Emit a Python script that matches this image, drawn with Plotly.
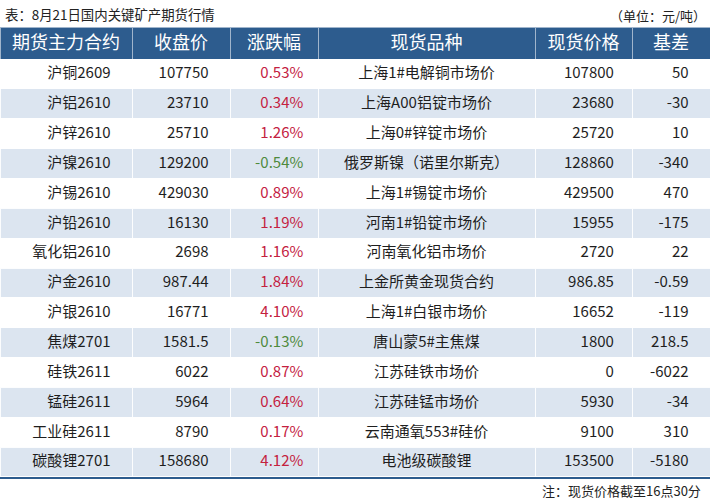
import plotly.graph_objects as go

headers = ["期货主力合约", "收盘价", "涨跌幅", "现货品种", "现货价格", "基差"]
contracts = ["沪铜2609", "沪铝2610", "沪锌2610", "沪镍2610", "沪锡2610", "沪铅2610", "氧化铝2610",
             "沪金2610", "沪银2610", "焦煤2701", "硅铁2611", "锰硅2611", "工业硅2611", "碳酸锂2701"]
close = [107750, 23710, 25710, 129200, 429030, 16130, 2698, 987.44, 16771, 1581.5, 6022, 5964, 8790, 158680]
change = [0.53, 0.34, 1.26, -0.54, 0.89, 1.19, 1.16, 1.84, 4.10, -0.13, 0.87, 0.64, 0.17, 4.12]
spot_name = ["上海1#电解铜市场价", "上海A00铝锭市场价", "上海0#锌锭市场价", "俄罗斯镍（诺里尔斯克）",
             "上海1#锡锭市场价", "河南1#铅锭市场价", "河南氧化铝市场价", "上金所黄金现货合约",
             "上海1#白银市场价", "唐山蒙5#主焦煤", "江苏硅铁市场价", "江苏硅锰市场价",
             "云南通氧553#硅价", "电池级碳酸锂"]
spot_price = [107800, 23680, 25720, 128860, 429500, 15955, 2720, 986.85, 16652, 1800, 0, 5930, 9100, 153500]
basis = [50, -30, 10, -340, 470, -175, 22, -0.59, -119, 218.5, -6022, -34, 310, -5180]

W, H = 710, 500
FONT = "Noto Sans CJK SC"
PAD = "\u00a0" * 4

n = len(contracts)
row_fill = ["#FFFFFF" if i % 2 == 0 else "#DCE5F0" for i in range(n)]
chg_color = ["#C4213F" if v > 0 else "#4E8A3C" for v in change]

cols = [
    [c + PAD for c in contracts],
    [f"{v:g}" + PAD for v in close],
    [f"{v:.2f}%" + "\u00a0\u00a0" for v in change],
    spot_name,
    [f"{v:g}" + "\u00a0\u00a0\u00a0" for v in spot_price],
    [f"{v:g}" + PAD for v in basis],
]

top_px, bottom_px = 27, 477
header_h = 32
cell_h = (bottom_px - top_px - header_h) / n

fig = go.Figure(go.Table(
    columnwidth=[132, 98, 88, 217, 97, 78],
    domain=dict(x=[0, 1], y=[1 - bottom_px / H, 1 - top_px / H]),
    header=dict(
        values=headers,
        fill_color="#2D5C8E",
        line=dict(color="rgba(255,255,255,0.55)", width=1),
        font=dict(family=FONT, size=18, color="white"),
        align="center",
        height=header_h,
    ),
    cells=dict(
        values=cols,
        fill_color=[row_fill] * 6,
        line=dict(color="rgba(255,255,255,0.9)", width=1),
        font=dict(family=FONT, size=15,
                  color=["#1E1E1E", "#1E1E1E", chg_color, "#1E1E1E", "#1E1E1E", "#1E1E1E"]),
        align=["right", "right", "right", "center", "right", "right"],
        height=cell_h,
    ),
))

fig.add_shape(type="line", xref="paper", yref="paper",
              x0=0, x1=1, y0=1 - (bottom_px + 1) / H, y1=1 - (bottom_px + 1) / H,
              line=dict(color="#2D5C8E", width=2))

fig.add_annotation(text="表：8月21日国内关键矿产期货行情", xref="paper", yref="paper",
                   x=0.004, y=1 - 14 / H, xanchor="left", yanchor="middle", showarrow=False,
                   font=dict(family=FONT, size=13.4, color="#222222"))
fig.add_annotation(text="（单位：元/吨）", xref="paper", yref="paper",
                   x=0.997, y=1 - 15 / H, xanchor="right", yanchor="middle", showarrow=False,
                   font=dict(family=FONT, size=13, color="#222222"))
fig.add_annotation(text="注：现货价格截至16点30分", xref="paper", yref="paper",
                   x=0.99, y=1 - 490 / H, xanchor="right", yanchor="middle", showarrow=False,
                   font=dict(family=FONT, size=13, color="#222222"))

fig.update_layout(width=W, height=H, margin=dict(l=0, r=0, t=0, b=0),
                  paper_bgcolor="white", plot_bgcolor="white")
fig.write_html("out.html", config={"displayModeBar": False},
               post_script="document.body.style.margin='0';")
